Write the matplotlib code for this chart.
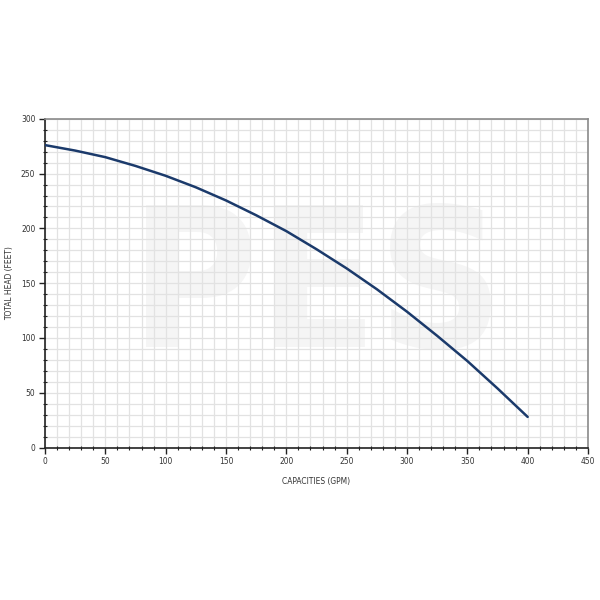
import matplotlib

matplotlib.use("Agg")
import matplotlib.pyplot as plt
from matplotlib.ticker import MultipleLocator

# pump curve (capacity in GPM, total head in feet)
capacity = [0, 25, 50, 75, 100, 125, 150, 175, 200, 225, 250, 275, 300, 325, 350, 375, 400]
head = [276, 271, 265, 257, 248, 237.5, 225.5, 212, 197.5, 181, 163.5, 144.5, 124, 102, 79, 54, 28]

x_label = "CAPACITIES (GPM)"
y_label = "TOTAL HEAD (FEET)"

plt.rcParams["font.family"] = ["DejaVu Sans"]
plt.rcParams["font.stretch"] = "condensed"

fig = plt.figure(figsize=(6, 6), dpi=100)
ax = fig.add_axes([0.075, 0.254, 0.905, 0.548])

# faint watermark behind the grid
ax.text(0.5, 0.47, "PES", transform=ax.transAxes, ha="center", va="center",
        fontsize=140, fontweight="bold", color="#f5f5f5", zorder=0)

ax.plot(capacity, head, color="#1b3a6b", linewidth=1.8, solid_capstyle="round", zorder=3)

ax.set_xlim(0, 450)
ax.set_ylim(0, 300)
ax.xaxis.set_major_locator(MultipleLocator(50))
ax.xaxis.set_minor_locator(MultipleLocator(10))
ax.yaxis.set_major_locator(MultipleLocator(50))
ax.yaxis.set_minor_locator(MultipleLocator(10))

ax.grid(which="both", color="#e2e2e2", linewidth=0.9, zorder=1)
ax.set_axisbelow(True)

ax.tick_params(which="major", direction="out", length=4, width=1, color="#222222",
               labelsize=6, labelcolor="#333333", pad=3)
ax.tick_params(which="minor", direction="inout", length=3, width=0.8, color="#222222")

for side in ("left", "bottom"):
    ax.spines[side].set_color("#222222")
    ax.spines[side].set_linewidth(1.2)
for side in ("top", "right"):
    ax.spines[side].set_color("#8a8a8a")
    ax.spines[side].set_linewidth(1.2)

ax.set_xlabel(x_label, fontsize=6, color="#333333", labelpad=8)
ax.set_ylabel(y_label, fontsize=6, color="#333333", labelpad=5)

fig.savefig("out.png", dpi=100)
